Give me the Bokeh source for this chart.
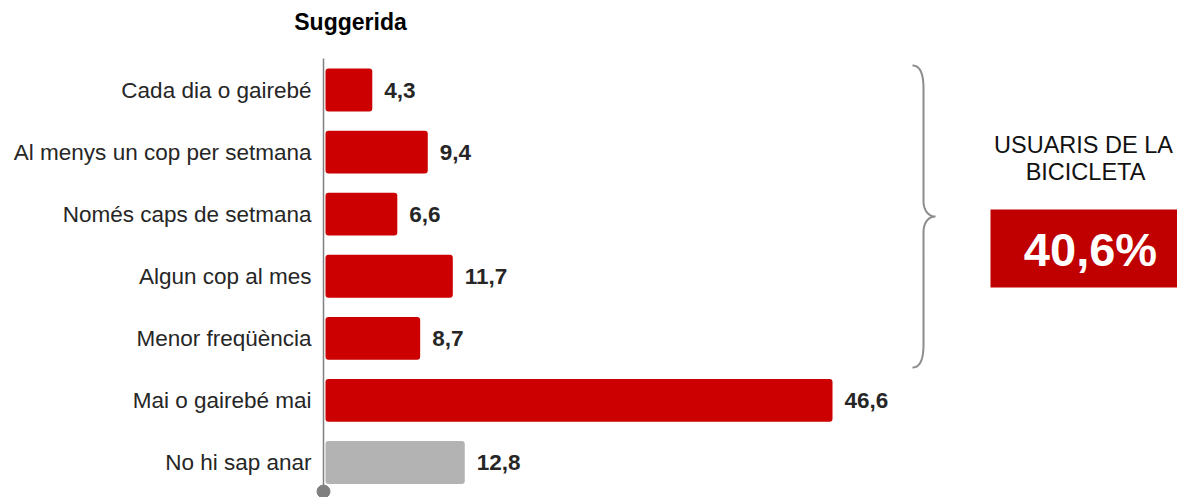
import numpy as np
from bokeh.plotting import figure
from bokeh.models import Range1d
from bokeh.core.properties import value
from bokeh.embed import file_html
from bokeh.resources import INLINE

# ---- data ----
categories = ["Cada dia o gairebé", "Al menys un cop per setmana", "Només caps de setmana",
              "Algun cop al mes", "Menor freqüència", "Mai o gairebé mai", "No hi sap anar"]
values = [4.3, 9.4, 6.6, 11.7, 8.7, 46.6, 12.8]
bar_colors = ["#CC0000"] * 6 + ["#B3B3B3"]
title_text = "Suggerida"
group_label = ["USUARIS DE LA", "BICICLETA"]
group_value = "40,6%"

FONT = "Liberation Sans"
W, H = 1177, 497
K = 10.88          # px per unit on x
S = 62.08          # px per row on y
AX = 323           # axis pixel position
X0 = -AX / K - 2 / K
XEND = X0 + W / K
YEND = 6 + 89.5 / S
YSTART = YEND - H / S

n = len(categories)
ypos = [n - 1 - i for i in range(n)]
val_text = [f"{v:.1f}".replace(".", ",") for v in values]

# helpers canvas px -> data
def dx(sx):
    return X0 + sx / K

def dy(sy):
    return YEND - sy / S

p = figure(width=W, height=H, output_backend="svg", toolbar_location=None,
           x_range=Range1d(X0, XEND), y_range=Range1d(YSTART, YEND),
           x_axis_location=None, y_axis_location=None,
           min_border_left=0, min_border_top=0, min_border_bottom=0, min_border_right=0)
p.outline_line_color = None
p.grid.visible = False
p.background_fill_color = "white"
p.border_fill_color = "white"

# category labels
p.text(x=[dx(311)] * n, y=ypos, text=categories, text_align="right", text_baseline="middle",
       text_font=value(FONT), text_font_size="22.5px", text_color="#262626")

# axis line + end dot
p.segment(x0=[dx(AX)], y0=[dy(58)], x1=[dx(AX)], y1=[dy(492)],
          line_color="#808080", line_width=1.5)
p.scatter(x=[dx(AX)], y=[dy(491)], size=13, color="#808080")

p.hbar(y=ypos, left=0, right=values, height=0.69, fill_color=bar_colors,
       line_color=None, border_radius=3)

p.text(x=values, y=ypos, text=val_text, x_offset=12, text_baseline="middle",
       text_align="left", text_font=value(FONT), text_font_size="22.5px",
       text_font_style="bold", text_color="#262626")

# brace
def cubic(p0, p1, p2, p3, m=24):
    t = np.linspace(0, 1, m)[:, None]
    P = np.array([p0, p1, p2, p3], dtype=float)
    return ((1 - t) ** 3) * P[0] + 3 * ((1 - t) ** 2) * t * P[1] + 3 * (1 - t) * t ** 2 * P[2] + t ** 3 * P[3]

segs = [
    cubic((912, 65), (919, 65), (923, 72), (923, 88)),
    cubic((923, 88), (923, 140), (923, 160), (923, 200)),
    cubic((923, 200), (923, 210), (928, 216), (935, 216)),
    cubic((935, 216), (928, 216), (923, 222), (923, 232)),
    cubic((923, 232), (923, 280), (923, 300), (923, 344)),
    cubic((923, 344), (923, 360), (919, 367), (912, 367)),
]
pts = np.vstack(segs)
p.line(x=[dx(a) for a in pts[:, 0]], y=[dy(b) for b in pts[:, 1]],
       line_color="#8C8C8C", line_width=2)

# group label
p.text(x=[dx(1083), dx(1085)], y=[dy(144), dy(171)], text=group_label,
       text_align="center", text_baseline="middle", text_font=value(FONT),
       text_font_size="23.5px", text_color="#111111")

# red box with value
p.quad(left=[dx(990)], right=[XEND + 1], top=[dy(209)], bottom=[dy(287)],
       fill_color="#C00000", line_color=None)
p.text(x=[dx(1090)], y=[dy(249)], text=[group_value], text_align="center",
       text_baseline="middle", text_font=value(FONT), text_font_size="47px",
       text_font_style="bold", text_color="white")

# title
p.text(x=[dx(350)], y=[dy(21)], text=[title_text], text_align="center",
       text_baseline="middle", text_font=value(FONT), text_font_size="23px",
       text_font_style="bold", text_color="black")

open("out.html", "w").write(file_html(p, INLINE))
